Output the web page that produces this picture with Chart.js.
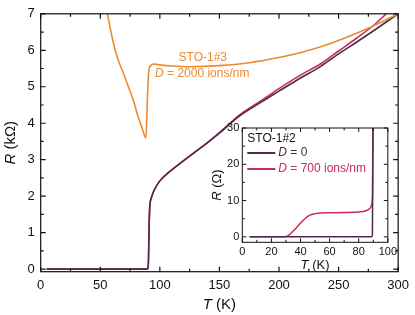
<!DOCTYPE html>
<html>
<head>
<meta charset="utf-8">
<script src="https://cdn.jsdelivr.net/npm/chart.js@4.4.0/dist/chart.umd.min.js"></script>
<style>
  body { margin: 0; background: #fff; }
  #wrap { position: relative; width: 415px; height: 315px; }
  #main { position: absolute; left: 0; top: 0; }
  #inset { position: absolute; left: 205px; top: 118px; }
</style>
</head>
<body>
<div id="wrap">
  <canvas id="main" width="415" height="315"></canvas>
  <canvas id="inset" width="195" height="155"></canvas>
</div>
<script>
'use strict';

// main panel, sample STO-1#2 (D = 0 and D = 700)
var mainT0 = [5, 20, 40, 60, 80, 89, 90, 90.5, 91, 91.5, 92, 93, 95, 100, 110, 125, 140, 150, 167, 185, 200, 217, 235, 250, 265, 280, 300];
var mainR0 = [0, 0, 0, 0, 0, 0, 0.02, 0.3, 1.2, 1.7, 1.85, 1.97, 2.15, 2.42, 2.72, 3.1, 3.47, 3.73, 4.2, 4.58, 4.88, 5.22, 5.56, 5.9, 6.22, 6.55, 7.0];
var mainT700 = [5, 20, 40, 60, 80, 89, 90, 90.5, 91, 91.5, 92, 93, 95, 100, 110, 125, 140, 150, 167, 185, 200, 217, 235, 250, 265, 280, 290];
var mainR700 = [0, 0, 0, 0, 0, 0, 0.02, 0.3, 1.2, 1.7, 1.85, 1.97, 2.15, 2.42, 2.72, 3.1, 3.47, 3.74, 4.23, 4.62, 4.95, 5.3, 5.63, 5.98, 6.33, 6.7, 7.0];

// main panel, sample STO-1#3 (D = 2000)
var orangeT = [56, 59, 62.5, 66, 70, 73.6, 78, 82, 85, 88.3, 89, 89.7, 90.3, 91, 92, 95, 100, 110, 125, 150, 175, 200, 220, 240, 260, 280, 300];
var orangeR = [7.0, 6.5, 6.0, 5.65, 5.32, 5.0, 4.6, 4.15, 3.88, 3.6, 4.1, 4.8, 5.25, 5.48, 5.57, 5.62, 5.6, 5.57, 5.55, 5.58, 5.66, 5.8, 5.95, 6.15, 6.4, 6.68, 7.0];

// inset, low temperature in ohms
var insetT0 = [5, 20, 40, 60, 80, 89, 89.4, 89.6, 89.8];
var insetR0 = [0, 0, 0, 0, 0, 0, 0.5, 15, 32];
var insetT700 = [5, 15, 25, 30, 32, 35, 38, 40, 43, 46, 50, 55, 60, 70, 80, 85, 88, 89, 89.5, 89.8];
var insetR700 = [0, 0, 0, 0.1, 0.5, 1.6, 2.9, 3.8, 5.0, 5.9, 6.4, 6.6, 6.65, 6.7, 6.85, 7.2, 8.0, 9.0, 12, 32];

// tick labels
var mainXTicks = [0, 50, 100, 150, 200, 250, 300];
var mainYTicks = [0, 1, 2, 3, 4, 5, 6, 7];
var insetXTicks = [0, 20, 40, 60, 80, 100];
var insetYTicks = [0, 10, 20, 30];

var FONT = '"Liberation Sans", Arial, sans-serif';
var ORANGE = '#ec8a30';
var CRIMSON = '#c72a5c';
var PURPLE = '#4f2a4d';

function pts(xs, ys) {
  return xs.map(function (x, i) { return { x: x, y: ys[i] }; });
}

function series(xs, ys, color, w) {
  return {
    data: pts(xs, ys),
    borderColor: color,
    borderWidth: w,
    pointRadius: 0,
    tension: 0.3,
    cubicInterpolationMode: 'monotone',
    fill: false
  };
}

function fixedTicks(list) {
  return function (scale) {
    scale.ticks = list.map(function (v) { return { value: v }; });
  };
}

function richText(ctx, parts, x, y, align) {
  var w = 0;
  parts.forEach(function (p) { ctx.font = p[1]; w += ctx.measureText(p[0]).width; });
  var sx = align === 'center' ? x - w / 2 : x;
  ctx.textBaseline = 'middle';
  ctx.textAlign = 'left';
  parts.forEach(function (p) {
    ctx.font = p[1];
    ctx.fillStyle = p[2];
    ctx.fillText(p[0], sx, y);
    sx += ctx.measureText(p[0]).width;
  });
}

// frame with inward ticks on all four sides
var frameTicks = {
  id: 'frameTicks',
  afterDatasetsDraw: function (chart, args, o) {
    var ctx = chart.ctx, a = chart.chartArea, sx = chart.scales.x, sy = chart.scales.y;
    ctx.save();
    ctx.strokeStyle = '#111';
    ctx.lineWidth = o.lw;
    ctx.beginPath();
    var v, p, len;
    for (v = Math.ceil(sx.min / o.xMinor) * o.xMinor; v <= sx.max + 1e-9; v += o.xMinor) {
      p = sx.getPixelForValue(v);
      len = Math.abs(v / o.xMajor - Math.round(v / o.xMajor)) < 1e-6 ? o.major : o.minor;
      ctx.moveTo(p, a.bottom); ctx.lineTo(p, a.bottom - len);
      ctx.moveTo(p, a.top); ctx.lineTo(p, a.top + len);
    }
    for (v = Math.ceil(sy.min / o.yMinor) * o.yMinor; v <= sy.max + 1e-9; v += o.yMinor) {
      p = sy.getPixelForValue(v);
      len = Math.abs(v / o.yMajor - Math.round(v / o.yMajor)) < 1e-6 ? o.major : o.minor;
      ctx.moveTo(a.left, p); ctx.lineTo(a.left + len, p);
      ctx.moveTo(a.right, p); ctx.lineTo(a.right - len, p);
    }
    ctx.stroke();
    ctx.strokeRect(a.left, a.top, a.right - a.left, a.bottom - a.top);
    ctx.restore();
  }
};

var mainLabels = {
  id: 'mainLabels',
  afterDraw: function (chart) {
    var ctx = chart.ctx, a = chart.chartArea, sx = chart.scales.x, sy = chart.scales.y;
    var it = 'italic 15px ' + FONT, rg = '15px ' + FONT;
    ctx.save();
    richText(ctx, [['T', it, '#111'], [' (K)', rg, '#111']], (a.left + a.right) / 2, 305, 'center');
    ctx.translate(11, (a.top + a.bottom) / 2);
    ctx.rotate(-Math.PI / 2);
    richText(ctx, [['R', it, '#111'], [' (k\u03a9)', rg, '#111']], 0, 0, 'center');
    ctx.restore();
    ctx.save();
    var f = '12px ' + FONT, fi = 'italic 12px ' + FONT;
    richText(ctx, [['STO-1#3', f, ORANGE]], sx.getPixelForValue(136), sy.getPixelForValue(5.8), 'center');
    richText(ctx, [['D', fi, ORANGE], [' = 2000 ions/nm', f, ORANGE]], sx.getPixelForValue(96), sy.getPixelForValue(5.37), 'left');
    ctx.restore();
  }
};

var insetLabels = {
  id: 'insetLabels',
  afterDraw: function (chart) {
    var ctx = chart.ctx, a = chart.chartArea;
    var it = 'italic 13px ' + FONT, rg = '13px ' + FONT;
    ctx.save();
    richText(ctx, [['T', it, '#111'], [' (K)', rg, '#111']], (a.left + a.right) / 2, 147, 'center');
    ctx.translate(12, (a.top + a.bottom) / 2);
    ctx.rotate(-Math.PI / 2);
    richText(ctx, [['R', it, '#111'], [' (\u03a9)', rg, '#111']], 0, 0, 'center');
    ctx.restore();
    ctx.save();
    var f = '12px ' + FONT, fi = 'italic 12px ' + FONT;
    richText(ctx, [['STO-1#2', f, '#111']], a.left + 5, a.top + 11, 'left');
    ctx.lineWidth = 2;
    ctx.strokeStyle = PURPLE;
    ctx.beginPath(); ctx.moveTo(a.left + 5, a.top + 25); ctx.lineTo(a.left + 33, a.top + 25); ctx.stroke();
    richText(ctx, [['D', fi, PURPLE], [' = 0', f, PURPLE]], a.left + 36, a.top + 25, 'left');
    ctx.strokeStyle = CRIMSON;
    ctx.beginPath(); ctx.moveTo(a.left + 5, a.top + 41); ctx.lineTo(a.left + 33, a.top + 41); ctx.stroke();
    richText(ctx, [['D', fi, CRIMSON], [' = 700 ions/nm', f, CRIMSON]], a.left + 36, a.top + 41, 'left');
    ctx.restore();
  }
};

function axis(min, max, list, size, pad, fit) {
  return {
    type: 'linear',
    min: min,
    max: max,
    afterBuildTicks: fixedTicks(list),
    afterFit: fit,
    grid: { display: false, drawTicks: false },
    border: { display: false },
    ticks: { autoSkip: false, maxRotation: 0, padding: pad, color: '#111', font: { family: FONT, size: size } }
  };
}

Chart.defaults.animation = false;

new Chart(document.getElementById('main'), {
  type: 'line',
  data: {
    datasets: [
      series(orangeT, orangeR, ORANGE, 1.6),
      series(mainT0, mainR0, PURPLE, 1.6),
      series(mainT700, mainR700, CRIMSON, 1.6)
    ]
  },
  options: {
    responsive: false,
    layout: { padding: { left: 0, right: 15, top: 8, bottom: 0 } },
    plugins: {
      legend: { display: false },
      tooltip: { enabled: false },
      frameTicks: { lw: 1.2, major: 5, minor: 3, xMajor: 50, xMinor: 25, yMajor: 1, yMinor: 0.5 }
    },
    scales: {
      x: axis(0, 300, mainXTicks, 13, 6, function (s) { s.height = 43.3; }),
      y: axis(-0.07, 7, mainYTicks, 13, 6, function (s) { s.width = 40.7; })
    }
  },
  plugins: [frameTicks, mainLabels]
});

new Chart(document.getElementById('inset'), {
  type: 'line',
  data: {
    datasets: [
      series(insetT0, insetR0, PURPLE, 1.5),
      series(insetT700, insetR700, CRIMSON, 1.5)
    ]
  },
  options: {
    responsive: false,
    layout: { padding: { left: 0, right: 12, top: 10, bottom: 0 } },
    plugins: {
      legend: { display: false },
      tooltip: { enabled: false },
      frameTicks: { lw: 1, major: 4, minor: 2.5, xMajor: 20, xMinor: 10, yMajor: 10, yMinor: 5 }
    },
    scales: {
      x: axis(0, 100, insetXTicks, 11, 3, function (s) { s.height = 30.7; }),
      y: axis(-1.5, 30, insetYTicks, 11, 3, function (s) { s.width = 37.3; })
    }
  },
  plugins: [frameTicks, insetLabels]
});
</script>
</body>
</html>
